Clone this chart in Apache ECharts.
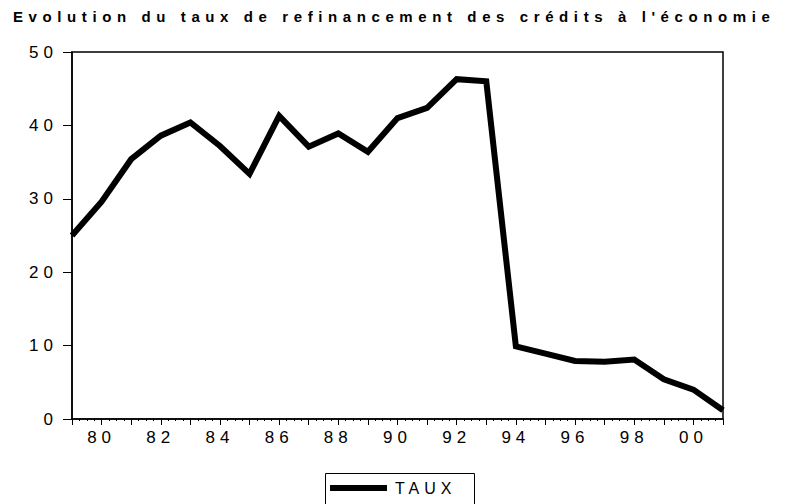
<!DOCTYPE html>
<html lang="fr">
<head>
    <meta charset="UTF-8">
    <title>Taux de refinancement</title>
    <script src="https://cdn.jsdelivr.net/npm/echarts@6/dist/echarts.min.js"></script>
    <style>
        body { margin: 0; background: #fff; }
        /* the original prints every text with wide letter spacing */
        #main { width: 785px; height: 504px; letter-spacing: 5px; }
        #main svg text[style*="bold"] { letter-spacing: 5.6px; }
    </style>
</head>
<body>
    <div id="main"></div>
    <script type="text/javascript">
        // Years and rate values
        const years = [1979, 1980, 1981, 1982, 1983, 1984, 1985, 1986, 1987, 1988, 1989,
                       1990, 1991, 1992, 1993, 1994, 1995, 1996, 1997, 1998, 1999, 2000, 2001];
        const taux = [25.0, 29.6, 35.4, 38.6, 40.4, 37.2, 33.4, 41.3, 37.1, 38.9, 36.4,
                      41.0, 42.4, 46.3, 46.0, 9.9, 8.9, 7.9, 7.8, 8.1, 5.4, 4.0, 1.2];
        const yTicks = [0, 10, 20, 30, 40, 50];

        const chart = echarts.init(document.getElementById('main'), null, { renderer: 'svg' });

        const font = 'Arial, "Liberation Sans", sans-serif';

        const option = {
            animation: false,
            backgroundColor: '#fff',
            title: {
                text: "Evolution du taux de refinancement des crédits à l'économie",
                left: 8,
                top: 4,
                textStyle: { fontFamily: font, fontSize: 15, fontWeight: 'bold', color: '#000' }
            },
            grid: {
                left: 72, right: 62, top: 52, bottom: 85,
                show: true, borderColor: '#000', borderWidth: 1.5
            },
            // legend frame (the legend's own border only wraps the unspaced text)
            graphic: [{
                type: 'rect',
                left: 323, top: 471,
                shape: { width: 149, height: 40 },
                style: { fill: 'none', stroke: '#000', lineWidth: 1 }
            }],
            legend: {
                top: 471,
                left: 323,
                padding: [9, 7, 30, 7],
                itemWidth: 57,
                itemHeight: 6,
                icon: 'rect',
                textStyle: { fontFamily: font, fontSize: 16, color: '#000', padding: [0, 0, 0, 3] },
                data: ['TAUX']
            },
            xAxis: {
                type: 'value',
                min: years[0],
                max: years[years.length - 1],
                interval: 1,
                splitLine: { show: false },
                axisLine: { lineStyle: { color: '#000', width: 1.5 } },
                axisTick: { length: 6, lineStyle: { color: '#000' } },
                minorTick: { show: true, splitNumber: 4, length: 2, lineStyle: { color: '#000' } },
                axisLabel: {
                    color: '#000', fontFamily: font, fontSize: 17, margin: 10,
                    formatter: v => (v % 2 === 0 ? String(v % 100).padStart(2, '0') : '')
                }
            },
            yAxis: {
                type: 'value',
                min: yTicks[0],
                max: yTicks[yTicks.length - 1],
                interval: 10,
                splitLine: { show: false },
                axisLine: { show: true, lineStyle: { color: '#000', width: 1.5 } },
                axisTick: { show: true, length: 9, lineStyle: { color: '#000' } },
                axisLabel: { color: '#000', fontFamily: font, fontSize: 17, margin: 14 }
            },
            series: [{
                name: 'TAUX',
                type: 'line',
                data: years.map((y, i) => [y, taux[i]]),
                showSymbol: false,
                itemStyle: { color: '#000' },
                lineStyle: { color: '#000', width: 6, join: 'miter' }
            }]
        };

        chart.setOption(option);
    </script>
</body>
</html>
